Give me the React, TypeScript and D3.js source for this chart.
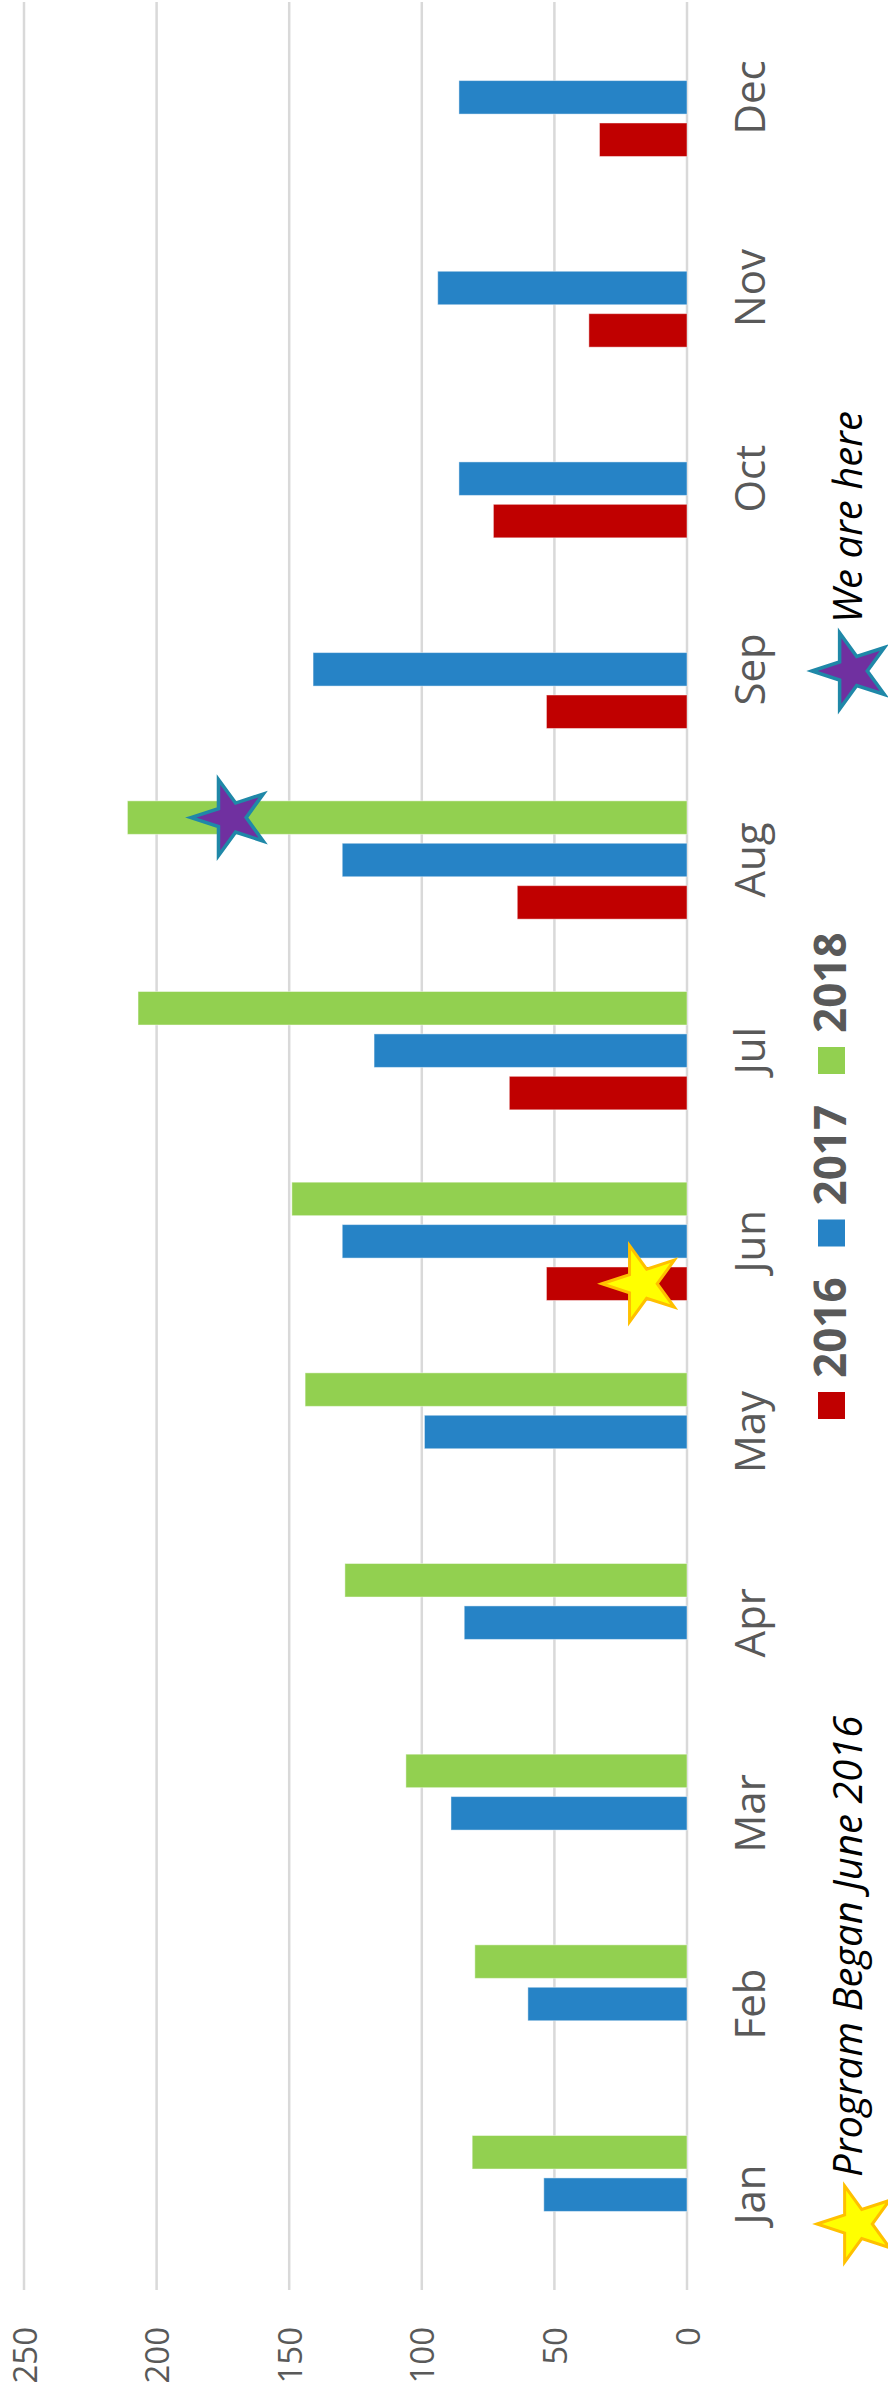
import * as d3 from 'd3';

const months = ['Jan', 'Feb', 'Mar', 'Apr', 'May', 'Jun', 'Jul', 'Aug', 'Sep', 'Oct', 'Nov', 'Dec'];
const years = ['2016', '2017', '2018'];
const colors = ['#C00000', '#2683C6', '#92D050'];

// monthly counts per year, null = no data that month
const values2016 = [null, null, null, null, null, 53, 67, 64, 53, 73, 37, 33];
const values2017 = [54, 60, 89, 84, 99, 130, 118, 130, 141, 86, 94, 86];
const values2018 = [81, 80, 106, 129, 144, 149, 207, 211, null, null, null, null];
const valueTicks = [0, 50, 100, 150, 200, 250];

// stars drawn on bars
const startMark = {month: 'Jun', year: '2016', value: 17};
const nowMark = {month: 'Aug', year: '2018', value: 172};

const W = 2397; // chart is drawn lying down, then turned
const H = 888;

const series = [values2016, values2017, values2018];

const App = () => {
    const x0 = d3.scaleBand<string>().domain(months).range([107, 2395]);
    const groupW = 127.2;
    const x1 = d3.scaleBand<string>().domain(years)
        .range([(x0.bandwidth() - groupW) / 2, (x0.bandwidth() + groupW) / 2])
        .paddingInner(0.21).paddingOuter(0.105);
    const y = d3.scaleLinear().domain([0, 250]).range([687, 24]);

    const star = d3.symbol().type(d3.symbolStar).size(1800)();

    const slotCenter = (m: string, yr: string) => (x0(m) ?? 0) + (x1(yr) ?? 0) + x1.bandwidth() / 2;

    const font = '"Open Sans", sans-serif';

    return (
        <svg width={888} height={2397} style={{position: 'absolute', left: 0, top: 0, background: '#fff'}}>
            <g transform={`translate(0,${W}) rotate(-90)`}>
                <rect x={0} y={0} width={W} height={H} fill="#fff" />
                {/* gridlines */}
                {valueTicks.map(t => (
                    <line key={t} x1={107} x2={2395} y1={y(t)} y2={y(t)} stroke="#d9d9d9" strokeWidth={2.5} />
                ))}
                {valueTicks.map(t => (
                    <text key={'t' + t} x={70} y={y(t)} textAnchor="end" dominantBaseline="central"
                        fontFamily={font} fontSize={33} fill="#595959">{t}</text>
                ))}

                {/* bars */}
                {series.map((vals, si) => vals.map((v, mi) => v == null ? null : (
                    <rect key={si + '-' + mi}
                        x={(x0(months[mi]) ?? 0) + (x1(years[si]) ?? 0)}
                        y={y(v)}
                        width={x1.bandwidth()}
                        height={y(0) - y(v)}
                        fill={colors[si]}
                        stroke="#ffffff" strokeOpacity={0.45} strokeWidth={1} />
                )))}

                {/* month labels */}
                {months.map(m => (
                    <text key={m} x={(x0(m) ?? 0) + x0.bandwidth() / 2} y={765} textAnchor="middle"
                        fontFamily={font} fontSize={42} fill="#595959">{m}</text>
                ))}

                {/* legend */}
                {years.map((yr, i) => (
                    <g key={yr} transform={`translate(${978 + i * 172.5},0)`}>
                        <rect x={0} y={818} width={27} height={27} fill={colors[i]} />
                        <text x={41} y={846} fontFamily={font} fontWeight="bold" fontSize={44} fill="#595959">{yr}</text>
                    </g>
                ))}

                {/* stars on bars */}
                <path d={star ?? ''} transform={`translate(${slotCenter(startMark.month, startMark.year)},${y(startMark.value)})`}
                    fill="#FFFF00" stroke="#FFC000" strokeWidth={3} strokeLinejoin="miter" />
                <path d={star ?? ''} transform={`translate(${slotCenter(nowMark.month, nowMark.year)},${y(nowMark.value)})`}
                    fill="#7030A0" stroke="#1F88A8" strokeWidth={3.5} strokeLinejoin="miter" />

                {/* notes */}
                <path d={star ?? ''} transform="translate(173,857)" fill="#FFFF00" stroke="#FFC000" strokeWidth={3} />
                <text x={220} y={862} fontFamily={font} fontStyle="italic" fontSize={40} fill="#000">Program Began June 2016</text>
                <path d={star ?? ''} transform="translate(1726,852)" fill="#7030A0" stroke="#1F88A8" strokeWidth={3.5} />
                <text x={1774} y={862} fontFamily={font} fontStyle="italic" fontSize={40} fill="#000">We are here</text>
            </g>
        </svg>
    );
};

export default App;
